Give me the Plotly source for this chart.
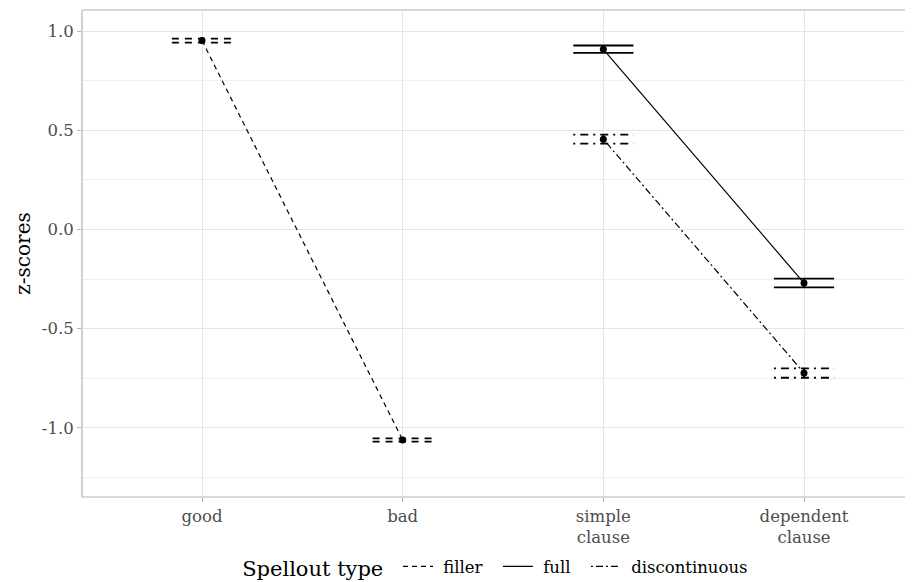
import plotly.graph_objects as go

categories = ["good", "bad", "simple<br>clause", "dependent<br>clause"]

series_names = ["filler", "full", "discontinuous"]
series_x = {"filler": [0, 1], "full": [2, 3], "discontinuous": [2, 3]}
series_mean = {"filler": [0.952, -1.061], "full": [0.908, -0.270], "discontinuous": [0.455, -0.723]}
series_lo = {"filler": [0.942, -1.069], "full": [0.890, -0.292], "discontinuous": [0.433, -0.747]}
series_hi = {"filler": [0.962, -1.053], "full": [0.927, -0.248], "discontinuous": [0.478, -0.700]}

line_dash = {"filler": "5px,4px", "full": "solid", "discontinuous": "2px,3px,7px,3px"}
bar_dash = {"filler": "7px,6px", "full": "solid", "discontinuous": "2px,5px,8px,5px"}

yticks = [-1.0, -0.5, 0.0, 0.5, 1.0]
ytick_text = ["-1.0", "-0.5", "0.0", "0.5", "1.0"]
yminor = [-1.25, -0.75, -0.25, 0.25, 0.75]

FONT = "DejaVu Serif"
half_w = 0.15

fig = go.Figure()

for name in series_names:
    xs = series_x[name]
    ex, ey = [], []
    for x, lo, hi in zip(xs, series_lo[name], series_hi[name]):
        ex += [x - half_w, x + half_w, None, x - half_w, x + half_w, None, x, x, None]
        ey += [hi, hi, None, lo, lo, None, lo, hi, None]
    fig.add_trace(go.Scatter(
        x=ex, y=ey, mode="lines", showlegend=False, hoverinfo="skip",
        line=dict(color="black", width=1.8, dash=bar_dash[name])))
    fig.add_trace(go.Scatter(
        x=xs, y=series_mean[name], mode="lines", name=" " + name + "  ",
        line=dict(color="black", width=1.2, dash=line_dash[name])))
    fig.add_trace(go.Scatter(
        x=xs, y=series_mean[name], mode="markers", showlegend=False,
        marker=dict(color="black", size=7)))

border = "#B3B3B3"
fig.update_layout(
    width=905, height=574,
    margin=dict(l=74, r=0, t=2, b=85, autoexpand=False),
    plot_bgcolor="white", paper_bgcolor="white",
    font=dict(family=FONT, color="black"),
    xaxis=dict(
        range=[-0.598, 3.543], tickvals=[0, 1, 2, 3], ticktext=categories,
        showgrid=True, gridcolor="#E5E5E5", gridwidth=1, zeroline=False,
        ticks="outside", ticklen=4, tickcolor=border, showline=False, automargin=False,
        tickfont=dict(family=FONT, size=16.5, color="#4D4D4D")),
    yaxis=dict(
        range=[-1.348, 1.106], tickvals=yticks, ticktext=ytick_text,
        showgrid=True, gridcolor="#E5E5E5", gridwidth=1, zeroline=False,
        ticks="outside", ticklen=4, tickcolor=border, showline=False, automargin=False,
        minor=dict(tickvals=yminor, showgrid=True, gridcolor="#F0F0F0", gridwidth=0.6, ticks=""),
        tickfont=dict(family=FONT, size=16.5, color="#4D4D4D"),
        title=dict(text="z-scores", font=dict(family=FONT, size=20, color="black"), standoff=5)),
    legend=dict(
        orientation="h", x=0.505, xanchor="center", y=-0.146, yanchor="middle",
        font=dict(family=FONT, size=16.5, color="black"),
        title=dict(text="Spellout type ", side="left", font=dict(family=FONT, size=21)),
        itemwidth=30, bgcolor="rgba(0,0,0,0)"),
    shapes=[
        dict(type="line", xref="paper", yref="paper", x0=0, x1=1, y0=1, y1=1, line=dict(color=border, width=1.2)),
        dict(type="line", xref="paper", yref="paper", x0=0, x1=1, y0=0, y1=0, line=dict(color=border, width=1.2)),
        dict(type="line", xref="paper", yref="paper", x0=0, x1=0, y0=0, y1=1, line=dict(color=border, width=1.2)),
    ],
)

fig.write_html("out.html")
